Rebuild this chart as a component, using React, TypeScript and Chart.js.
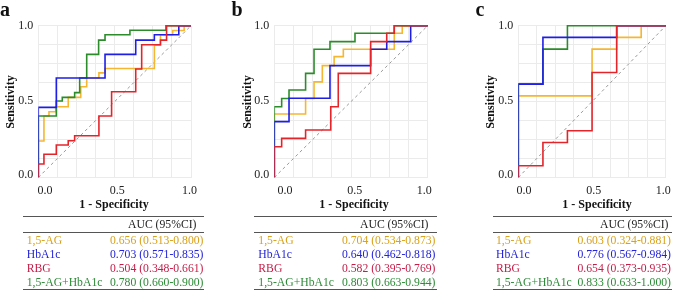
import React, { useEffect, useRef } from "react";
import { Chart, registerables } from "chart.js";
Chart.register(...registerables);

// ---------- DATA ----------
const TICK_VALUES = [0, 0.5, 1];
const SERIES_NAMES = ["1,5-AG", "HbA1c", "RBG", "1,5-AG+HbA1c"];
const PANEL_LETTERS = ["a", "b", "c"];
const AUC_HEADER = "AUC (95%CI)";
const X_TITLE = "1 - Specificity";
const Y_TITLE = "Sensitivity";

// ROC step corners: [1 - specificity, sensitivity]
const A_AG = [[0, 0], [0, 0.24], [0.037, 0.405], [0.07, 0.433], [0.114, 0.466], [0.196, 0.528], [0.278, 0.598], [0.317, 0.655], [0.397, 0.689], [0.437, 0.718], [0.76, 0.872], [0.8, 0.94], [0.88, 0.968], [0.955, 1], [1, 1]];
const A_HB = [[0, 0], [0, 0.462], [0.118, 0.655], [0.437, 0.811], [0.638, 0.905], [0.76, 0.94], [0.92, 1], [1, 1]];
const A_RBG = [[0, 0], [0, 0.089], [0.037, 0.153], [0.118, 0.214], [0.196, 0.242], [0.238, 0.275], [0.397, 0.405], [0.48, 0.565], [0.638, 0.715], [0.677, 0.875], [0.8, 0.905], [0.84, 1], [1, 1]];
const A_COMB = [[0, 0], [0, 0.405], [0.118, 0.504], [0.157, 0.528], [0.238, 0.559], [0.271, 0.655], [0.317, 0.811], [0.395, 0.905], [0.437, 0.94], [0.6, 0.97], [0.836, 1], [1, 1]];

const B_AG = [[0, 0], [0, 0.418], [0.204, 0.52], [0.259, 0.63], [0.313, 0.737], [0.39, 0.796], [0.45, 0.845], [0.782, 0.95], [0.834, 1], [1, 1]];
const B_HB = [[0, 0], [0, 0.368], [0.096, 0.522], [0.363, 0.737], [0.628, 0.845], [0.733, 0.895], [0.889, 1], [1, 1]];
const B_RBG = [[0, 0], [0, 0.203], [0.048, 0.258], [0.204, 0.313], [0.368, 0.466], [0.417, 0.686], [0.628, 0.895], [0.733, 0.95], [0.782, 1], [1, 1]];
const B_COMB = [[0, 0], [0, 0.466], [0.048, 0.52], [0.096, 0.576], [0.204, 0.686], [0.259, 0.845], [0.363, 0.895], [0.526, 0.95], [0.782, 1], [1, 1]];

const C_AG = [[0, 0], [0, 0.538], [0.5, 0.846], [0.667, 0.923], [0.833, 1], [1, 1]];
const C_HB = [[0, 0], [0, 0.615], [0.167, 0.923], [0.667, 1], [1, 1]];
const C_RBG = [[0, 0], [0, 0.077], [0.167, 0.231], [0.333, 0.308], [0.5, 0.692], [0.667, 1], [1, 1]];
const C_COMB = [[0, 0], [0, 0.615], [0.167, 0.846], [0.333, 1], [1, 1]];

const A_AUC = ["0.656 (0.513-0.800)", "0.703 (0.571-0.835)", "0.504 (0.348-0.661)", "0.780 (0.660-0.900)"];
const B_AUC = ["0.704 (0.534-0.873)", "0.640 (0.462-0.818)", "0.582 (0.395-0.769)", "0.803 (0.663-0.944)"];
const C_AUC = ["0.603 (0.324-0.881)", "0.776 (0.567-0.984)", "0.654 (0.373-0.935)", "0.833 (0.633-1.000)"];

// ---------- STYLE ----------
const FONT = "'Liberation Serif', 'Times New Roman', serif";
const LINE_COLORS = ["#F5B731", "#1E1EE6", "#E3242B", "#2C8C2C"];
const TEXT_COLORS = ["#D9A21C", "#2424D8", "#C41E48", "#2E8B38"];
const GRID = "#ebebeb";

type PanelCfg = {
  series: number[][][];
  auc: string[];
  letter: string;
  canvasLeft: number;
  canvasWidth: number;
  plotLeft: number;
  plotRight: number;
  xlMin: number;
  xlMax: number;
  letterLeft: number;
  yTitleX: number;
  xTitleX: number;
  lineL: number;
  lineR: number;
  labelL: number;
  valueR: number;
  headerL: number;
};

const PLOT_TOP = 25.7;
const PLOT_BOTTOM = 177.5;
const CANVAS_H = 200;
const YL_W = 30;
const XL_H = 20;
const TABLE_FONT = 11.7;

const PANELS: PanelCfg[] = [
  { series: [A_AG, A_HB, A_RBG, A_COMB], auc: A_AUC, letter: PANEL_LETTERS[0], canvasLeft: 0, canvasWidth: 225, plotLeft: 38.3, plotRight: 191, xlMin: -0.046, xlMax: 1.01, letterLeft: 0, yTitleX: 10, xTitleX: 114, lineL: 23, lineR: 204, labelL: 26.7, valueR: 203.5, headerL: 128 },
  { series: [B_AG, B_HB, B_RBG, B_COMB], auc: B_AUC, letter: PANEL_LETTERS[1], canvasLeft: 225, canvasWidth: 225, plotLeft: 274.3, plotRight: 427.7, xlMin: -0.077, xlMax: 1.024, letterLeft: 231.5, yTitleX: 246.8, xTitleX: 354, lineL: 254.3, lineR: 436.7, labelL: 258.3, valueR: 435.5, headerL: 360 },
  { series: [C_AG, C_HB, C_RBG, C_COMB], auc: C_AUC, letter: PANEL_LETTERS[2], canvasLeft: 450, canvasWidth: 227, plotLeft: 518.3, plotRight: 669.3, xlMin: -0.041, xlMax: 1.018, letterLeft: 475.5, yTitleX: 489.5, xTitleX: 597, lineL: 493.3, lineR: 671.7, labelL: 496, valueR: 671, headerL: 600 },
];

function RocChart({ cfg }: { cfg: PanelCfg }) {
  const ref = useRef<HTMLCanvasElement | null>(null);
  useEffect(() => {
    if (!ref.current) return;
    const order = [2, 1, 3, 0]; // red on top, then blue, green, orange
    const datasets: any[] = order.map((i) => ({
      label: SERIES_NAMES[i],
      data: cfg.series[i].map(([x, y]) => ({ x, y })),
      borderColor: LINE_COLORS[i],
      borderWidth: 1.6,
      stepped: "before",
      pointRadius: 0,
      fill: false,
      xAxisID: "x",
      yAxisID: "y",
      clip: { left: 0, bottom: 0, top: false, right: false },
    }));
    datasets.push({
      label: "ref",
      data: [{ x: 0, y: 0 }, { x: 1, y: 1 }],
      borderColor: "#9a9a9a",
      borderWidth: 1,
      borderDash: [3, 3],
      pointRadius: 0,
      fill: false,
      xAxisID: "x",
      yAxisID: "y",
    });
    const tickFont = { family: FONT, size: 12 };
    const chart = new Chart(ref.current, {
      type: "line",
      data: { datasets },
      options: {
        responsive: false,
        animation: false,
        events: [],
        plugins: { legend: { display: false }, tooltip: { enabled: false } },
        layout: {
          padding: {
            left: cfg.plotLeft - cfg.canvasLeft - YL_W,
            right: cfg.canvasLeft + cfg.canvasWidth - cfg.plotRight,
            top: PLOT_TOP,
            bottom: CANVAS_H - PLOT_BOTTOM - XL_H,
          },
        },
        scales: {
          x: {
            type: "linear", position: "bottom", min: 0, max: 1,
            ticks: { display: false, stepSize: 0.125 },
            grid: { color: GRID, drawTicks: false, lineWidth: 1 },
            border: { display: false },
            afterFit: (s: any) => { s.height = 0; },
          },
          xl: {
            type: "linear", position: "bottom", min: cfg.xlMin, max: cfg.xlMax,
            grid: { display: false, drawTicks: false }, border: { display: false },
            ticks: { padding: 6, color: "#222", font: tickFont, maxRotation: 0, autoSkip: false, callback: (v: any) => Number(v).toFixed(1) },
            afterBuildTicks: (s: any) => { s.ticks = TICK_VALUES.map((v) => ({ value: v })); },
            afterFit: (s: any) => { s.height = XL_H; },
          },
          y: {
            type: "linear", position: "left", min: 0, max: 1,
            ticks: { display: false, stepSize: 0.125 },
            grid: { color: GRID, drawTicks: false, lineWidth: 1 },
            border: { display: false },
            afterFit: (s: any) => { s.width = 0; },
          },
          yl: {
            type: "linear", position: "left", min: -0.018, max: 1.002,
            grid: { display: false, drawTicks: false }, border: { display: false },
            ticks: { padding: 5, color: "#222", font: tickFont, autoSkip: false, callback: (v: any) => Number(v).toFixed(1) },
            afterBuildTicks: (s: any) => { s.ticks = TICK_VALUES.map((v) => ({ value: v })); },
            afterFit: (s: any) => { s.width = YL_W; },
          },
        },
      } as any,
    });
    return () => chart.destroy();
  }, [cfg]);
  return (
    <canvas
      ref={ref}
      width={cfg.canvasWidth}
      height={CANVAS_H}
      style={{ position: "absolute", left: cfg.canvasLeft, top: 0, width: cfg.canvasWidth, height: CANVAS_H, display: "block" }}
    />
  );
}

function Txt({ x, y, children, style }: { x: number; y: number; children: React.ReactNode; style?: React.CSSProperties }) {
  return (
    <div style={{ position: "absolute", left: x, top: y - 7, height: 14, lineHeight: "14px", fontSize: TABLE_FONT, fontFamily: FONT, whiteSpace: "nowrap", ...style }}>
      {children}
    </div>
  );
}

function Panel({ cfg }: { cfg: PanelCfg }) {
  const rowY = [241, 255, 269, 283];
  const hl = (y: number) => (
    <div style={{ position: "absolute", left: cfg.lineL, top: y - 0.5, width: cfg.lineR - cfg.lineL, height: 1, background: "#555" }} />
  );
  return (
    <>
      <RocChart cfg={cfg} />
      <div style={{ position: "absolute", left: cfg.letterLeft, top: -1.2, fontSize: 20, lineHeight: "20px", fontWeight: "bold", fontFamily: FONT, color: "#111" }}>{cfg.letter}</div>
      <div style={{ position: "absolute", left: cfg.yTitleX, top: 101.7, transform: "translate(-50%, -50%) rotate(-90deg)", fontSize: 12, lineHeight: "14px", fontWeight: "bold", fontFamily: FONT, whiteSpace: "nowrap", color: "#111" }}>{Y_TITLE}</div>
      <div style={{ position: "absolute", left: cfg.xTitleX, top: 203.5, transform: "translate(-50%, -50%)", fontSize: 12, lineHeight: "14px", fontWeight: "bold", fontFamily: FONT, whiteSpace: "nowrap", color: "#111" }}>{X_TITLE}</div>
      {hl(216.7)}
      {hl(232.7)}
      {hl(289)}
      <Txt x={cfg.headerL} y={225} style={{ color: "#222" }}>{AUC_HEADER}</Txt>
      {SERIES_NAMES.map((name, i) => (
        <React.Fragment key={name}>
          <Txt x={cfg.labelL} y={rowY[i]} style={{ color: TEXT_COLORS[i] }}>{name}</Txt>
          <Txt x={cfg.valueR - 200} y={rowY[i]} style={{ color: TEXT_COLORS[i], width: 200, textAlign: "right" }}>{cfg.auc[i]}</Txt>
        </React.Fragment>
      ))}
    </>
  );
}

export default function App() {
  return (
    <div style={{ position: "absolute", left: 0, top: 0, width: 677, height: 292, background: "#fff", overflow: "hidden" }}>
      {PANELS.map((p) => (
        <Panel key={p.letter} cfg={p} />
      ))}
    </div>
  );
}
